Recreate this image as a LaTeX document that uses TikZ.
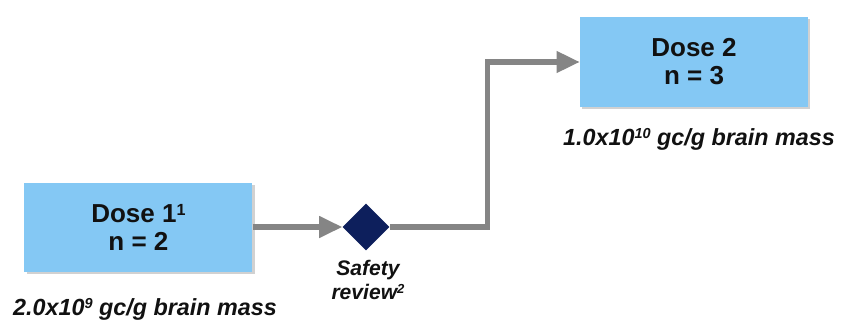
\documentclass[tikz,border=0pt]{standalone}
\usepackage{fontspec}
\setmainfont{Liberation Sans}
\usepackage{xcolor}
\usepackage{tikz}
\usetikzlibrary{arrows.meta,positioning,shadows,shapes.geometric}
\definecolor{ink}{HTML}{111111}
\definecolor{dosefill}{HTML}{84C8F4}
\definecolor{navy}{HTML}{0D1F5C}
\definecolor{flowgray}{HTML}{858585}
\newcommand{\upnum}[1]{\raisebox{0.28em}{\scalebox{0.62}{#1}}}
\tikzset{
  dosebox/.style={
    fill=dosefill,
    draw=none,
    minimum width=5.7cm,
    minimum height=2.24cm,
    align=center,
    text=ink,
    font=\fontsize{18.5}{20}\selectfont\bfseries,
    drop shadow={shadow xshift=1.6pt, shadow yshift=-1.6pt, fill=black!45, opacity=0.4}
  },
  reviewgate/.style={
    diamond,
    aspect=1,
    fill=navy,
    draw=none,
    inner sep=0pt,
    minimum size=1.17cm
  },
  doseann/.style={font=\fontsize{16.6}{18}\selectfont\bfseries\itshape, text=ink, inner sep=0pt},
  gateann/.style={font=\fontsize{15}{17}\selectfont\bfseries\itshape, text=ink, align=center, inner sep=0pt},
  flowarrow/.style={-{Triangle[length=0.58cm,width=0.52cm]}, line width=3.6pt, draw=flowgray}
}
\begin{document}
\begin{tikzpicture}[node distance=0.2cm]
  \useasboundingbox (0,0) rectangle (21.05,8.075);

  \node[dosebox] (dose1) at (3.46,2.39) {Dose 1\upnum{1}\\n = 2};
  \node[dosebox] (dose2) at (17.35,6.525) {Dose 2\\n = 3};
  \node[reviewgate] (review) at (9.15,2.4) {};

  \node[gateann, anchor=base] (reviewlbl) at (9.2,0.6) {Safety\\review\upnum{2}};
  \node[doseann, anchor=base] (dose1lbl) at (3.625,0.2) {2.0x10\upnum{9} gc/g brain mass};
  \node[doseann, anchor=base] (dose2lbl) at (17.475,4.45) {1.0x10\upnum{10} gc/g brain mass};

  \coordinate (bend) at (12.18,6.525);
  \draw[flowarrow] (dose1.east |- review.west) -- (review.west);
  \draw[flowarrow] (review.east) -| (bend) -- (dose2.west);
\end{tikzpicture}
\end{document}
